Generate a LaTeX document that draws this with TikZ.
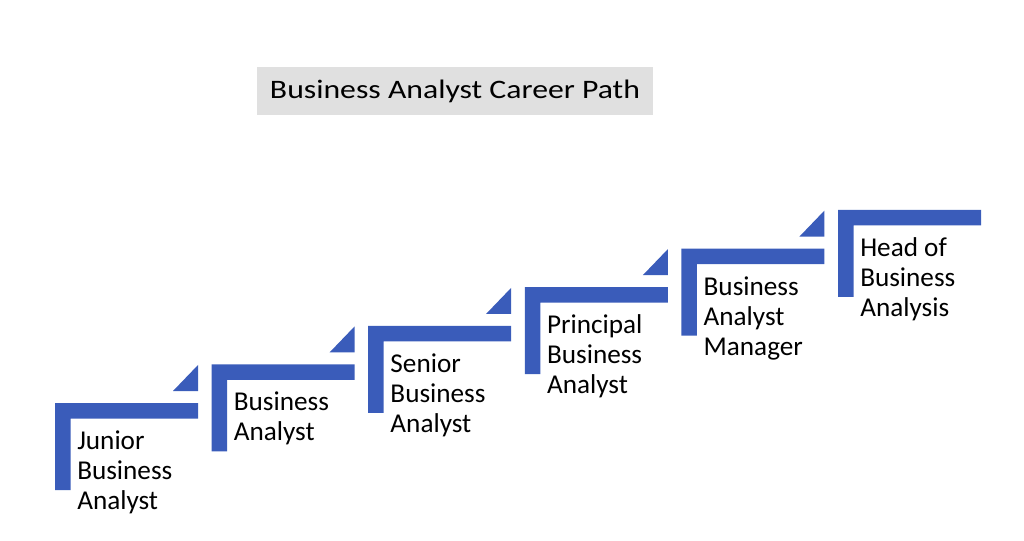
\documentclass[tikz,border=0pt]{standalone}
\usepackage{fontspec}
\setmainfont{Carlito}
\definecolor{stepblue}{RGB}{58,92,186}
\definecolor{titlegray}{RGB}{224,224,224}
\tikzset{
  stepbar/.style={fill=stepblue, draw=none},
  steplabel/.style={anchor=base west, align=left, inner sep=0pt,
    font=\fontsize{20.4}{22.5}\selectfont}
}
\begin{document}
\begin{tikzpicture}[x=0.75pt, y=-0.75pt]
  \useasboundingbox (0,0) rectangle (1024,541);

  \node[fill=titlegray, minimum width=297pt, minimum height=36pt, inner sep=0pt,
    font=\fontsize{20}{24}\selectfont] (title) at (455,91)
    {\scalebox{1.19}[1]{Business Analyst Career Path}};

  \fill[stepbar] (55,403)--(198,403)--(198,418.5)--(70.5,418.5)--(70.5,490)--(55,490)--cycle;
  \fill[stepbar] (173,391)--(198,391)--(198,365)--cycle;
  \node[steplabel] (junior) at (77,509.5) {Junior\\Business\\Analyst};

  \fill[stepbar] (211.6,364.4)--(354.6,364.4)--(354.6,379.9)--(227.1,379.9)--(227.1,451.4)--(211.6,451.4)--cycle;
  \fill[stepbar] (329.6,352.4)--(354.6,352.4)--(354.6,326.4)--cycle;
  \node[steplabel] (analyst) at (233.6,440.9) {Business\\Analyst};

  \fill[stepbar] (368.2,325.8)--(511.2,325.8)--(511.2,341.3)--(383.7,341.3)--(383.7,412.8)--(368.2,412.8)--cycle;
  \fill[stepbar] (486.2,313.8)--(511.2,313.8)--(511.2,287.8)--cycle;
  \node[steplabel] (senior) at (390.2,432.3) {Senior\\Business\\Analyst};

  \fill[stepbar] (524.8,287.2)--(667.8,287.2)--(667.8,302.7)--(540.3,302.7)--(540.3,374.2)--(524.8,374.2)--cycle;
  \fill[stepbar] (642.8,275.2)--(667.8,275.2)--(667.8,249.2)--cycle;
  \node[steplabel] (principal) at (546.8,393.7) {Principal\\Business\\Analyst};

  \fill[stepbar] (681.4,248.6)--(824.4,248.6)--(824.4,264.1)--(696.9,264.1)--(696.9,335.6)--(681.4,335.6)--cycle;
  \fill[stepbar] (799.4,236.6)--(824.4,236.6)--(824.4,210.6)--cycle;
  \node[steplabel] (manager) at (703.4,355.1) {Business\\Analyst\\Manager};

  \fill[stepbar] (838,210)--(981,210)--(981,225.5)--(853.5,225.5)--(853.5,297)--(838,297)--cycle;
  \node[steplabel] (head) at (860,316.5) {Head of\\Business\\Analysis};
\end{tikzpicture}
\end{document}
